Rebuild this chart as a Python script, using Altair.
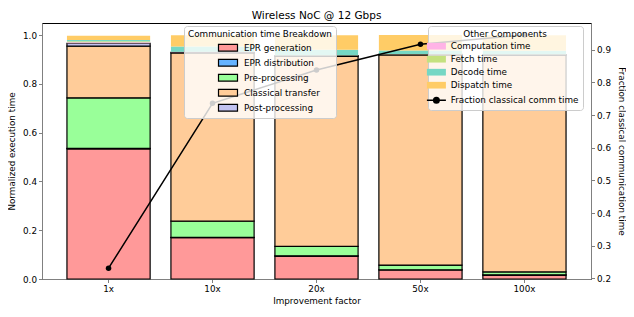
import altair as alt
import pandas as pd

factors = ["1x", "10x", "20x", "50x", "100x"]

comm_names = ["EPR generation", "EPR distribution", "Pre-processing", "Classical transfer", "Post-processing"]
comm_colors = ["#ff9999", "#66b3ff", "#99ff99", "#ffcc99", "#c2c2f0"]
epr_gen = [0.534, 0.170, 0.094, 0.037, 0.016]
epr_dist = [0.002, 0.001, 0.001, 0.001, 0.001]
pre_proc = [0.207, 0.066, 0.039, 0.019, 0.012]
classical = [0.212, 0.690, 0.779, 0.862, 0.889]
post_proc = [0.012, 0.003, 0.003, 0.002, 0.002]

other_names = ["Computation time", "Fetch time", "Decode time", "Dispatch time"]
other_colors = ["#ffb3e6", "#c4e17f", "#76d7c4", "#ffcc66"]
computation = [0.004, 0.001, 0.001, 0.001, 0.001]
fetch = [0.004, 0.001, 0.001, 0.001, 0.001]
decode = [0.005, 0.022, 0.022, 0.014, 0.014]
dispatch = [0.018, 0.046, 0.060, 0.064, 0.064]

line_name = "Fraction classical comm time"
frac_classical = [0.231, 0.736, 0.838, 0.917, 0.945]

right_ticks = [0.2, 0.3, 0.4, 0.5, 0.6, 0.7, 0.8, 0.9]
left_ticks = [0.0, 0.2, 0.4, 0.6, 0.8, 1.0]

# ---- build stacked tables
comm_series = [epr_gen, epr_dist, pre_proc, classical, post_proc]
other_series = [computation, fetch, decode, dispatch]
comm_rows, other_rows = [], []
for i, f in enumerate(factors):
    base = 0.0
    for name, vals in zip(comm_names, comm_series):
        comm_rows.append({"factor": f, "component": name, "y0": base, "y1": base + vals[i]})
        base += vals[i]
    for name, vals in zip(other_names, other_series):
        other_rows.append({"factor": f, "component": name, "y0": base, "y1": base + vals[i]})
        base += vals[i]
comm_df = pd.DataFrame(comm_rows)
other_df = pd.DataFrame(other_rows)
line_df = pd.DataFrame({"factor": factors, "frac": frac_classical, "series": [line_name] * len(factors)})

FONT = "DejaVu Sans"
FS = 8.8
GRAY = "#808080"

x_enc = alt.X("factor:N", sort=factors,
              scale=alt.Scale(paddingInner=0.2, paddingOuter=0.24),
              axis=alt.Axis(title="Improvement factor", labelAngle=0, domainColor=GRAY,
                            tickColor=GRAY, tickSize=3.5, labelPadding=2, titlePadding=3))

left_scale = alt.Scale(domain=[0, 1.05], nice=False, zero=False)
left_axis = alt.Axis(title="Normalized execution time", values=left_ticks,
                     format=".1f", grid=False, domainColor=GRAY, tickColor=GRAY,
                     tickSize=3.5, labelPadding=2, titlePadding=6, labelOverlap=False)

rect_path = "M-1.9,-0.67H1.9V0.67H-1.9Z"
line_path = "M-1.9,0H1.9M0.55,0A0.55,0.55,0,1,1,-0.55,0A0.55,0.55,0,1,1,0.55,0Z"
is_line = f"datum.value === '{line_name}'"

comm = alt.Chart(comm_df).mark_bar(stroke="black", strokeWidth=1.2).encode(
    x=x_enc,
    y=alt.Y("y0:Q", scale=left_scale, axis=left_axis),
    y2="y1:Q",
    color=alt.Color("component:N",
                    scale=alt.Scale(domain=comm_names, range=comm_colors),
                    legend=alt.Legend(title="Communication time Breakdown", orient="none",
                                      legendX=142, legendY=3, symbolType=rect_path,
                                      symbolSize=100, symbolStrokeColor="black",
                                      symbolStrokeWidth=1.2, symbolOffset=22, labelOffset=10,
                                      rowPadding=3, padding=4, titlePadding=3,
                                      titleAnchor="middle", fillColor="rgba(255,255,255,0.8)",
                                      strokeColor="#cccccc", cornerRadius=3)),
)

other = alt.Chart(other_df).mark_bar(strokeWidth=0).encode(
    x=x_enc,
    y=alt.Y("y0:Q", scale=left_scale, axis=left_axis),
    y2="y1:Q",
    fill=alt.Fill("component:N",
                  scale=alt.Scale(domain=other_names + [line_name], range=other_colors + ["black"]),
                  legend=alt.Legend(
                      title="Other Components", orient="none", legendX=386, legendY=3,
                      symbolType=alt.ExprRef(expr=f"{is_line} ? '{line_path}' : '{rect_path}'"),
                      symbolStrokeColor=alt.ExprRef(expr=f"{is_line} ? 'black' : 'transparent'"),
                      symbolStrokeWidth=alt.ExprRef(expr=f"{is_line} ? 1.5 : 0"),
                      symbolSize=100, symbolOffset=0, labelOffset=10,
                      rowPadding=3, padding=4, titlePadding=3, titleAnchor="middle",
                      fillColor="rgba(255,255,255,0.8)", strokeColor="#cccccc", cornerRadius=3)),
)

right_scale = alt.Scale(domain=[0.198, 0.982], nice=False, zero=False)
right_axis = alt.Axis(orient="right", title="Fraction classical communication time",
                      values=right_ticks, format=".1f", labelOverlap=False,
                      grid=False, domainColor=GRAY, tickColor=GRAY, tickSize=3.5,
                      labelPadding=2, titlePadding=6)

line = alt.Chart(line_df).mark_line(color="black", strokeWidth=1.5).encode(
    x=alt.X("factor:N", sort=factors),
    y=alt.Y("frac:Q", scale=right_scale, axis=right_axis),
)
points = alt.Chart(line_df).mark_circle(size=30, opacity=1).encode(
    x=alt.X("factor:N", sort=factors),
    y=alt.Y("frac:Q", scale=right_scale, axis=right_axis),
    fill=alt.Fill("series:N"),
)

chart = alt.layer(alt.layer(comm, other), alt.layer(line, points)).resolve_scale(
    y="independent"
).properties(
    width=549, height=256,
    title=alt.Title("Wireless NoC @ 12 Gbps", fontSize=10.5, fontWeight="normal", font=FONT, offset=2),
    autosize=alt.AutoSizeParams(type="none"),
    padding={"left": 34, "top": 15, "right": 35, "bottom": 30},
).configure_view(stroke="black", strokeWidth=1).configure_axis(
    labelFont=FONT, titleFont=FONT, labelFontSize=FS, titleFontSize=FS,
    labelColor="black", titleColor="black", titleFontWeight="normal"
).configure_legend(
    labelFont=FONT, titleFont=FONT, labelFontSize=FS, titleFontSize=FS,
    labelColor="black", titleColor="black", titleFontWeight="normal"
)

chart.save("out.html", embed_options={"renderer": "svg", "actions": False})
